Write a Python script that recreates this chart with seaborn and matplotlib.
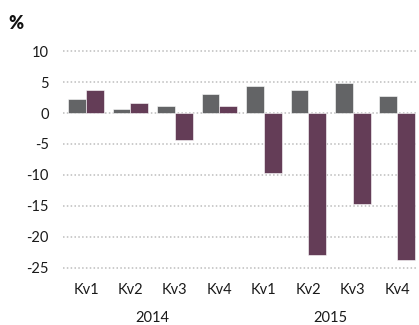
import matplotlib
matplotlib.use("Agg")
import matplotlib.pyplot as plt
import seaborn as sns
import pandas as pd

quarters = ["Kv1", "Kv2", "Kv3", "Kv4", "Kv1", "Kv2", "Kv3", "Kv4"]
years = ["2014"] * 4 + ["2015"] * 4
series_a = [2.2, 0.6, 1.1, 3.0, 4.3, 3.7, 4.9, 2.8]
series_b = [3.7, 1.6, -4.4, 1.1, -9.6, -22.9, -14.7, -23.8]
yticks = [10, 5, 0, -5, -10, -15, -20, -25]

periods = [f"{y} {q}" for y, q in zip(years, quarters)]
df = pd.DataFrame({
    "period": periods * 2,
    "serie": ["A"] * len(periods) + ["B"] * len(periods),
    "value": series_a + series_b,
})

sns.set_theme(style="white")
plt.rcParams["font.family"] = ["Lato", "DejaVu Sans"]

fig = plt.figure(figsize=(4.19, 3.25), dpi=100)
ax = fig.add_axes([0.150, 0.147, 0.848, 0.715])

sns.barplot(data=df, x="period", y="value", hue="serie", order=periods,
            palette={"A": "#636466", "B": "#6b3659"}, width=0.8,
            edgecolor="white", linewidth=0.4, legend=False, ax=ax, zorder=3)

ax.set_ylim(-26.5, 11)
ax.set_xlim(-0.52, 7.47)
ax.set_yticks(yticks)
ax.set_yticklabels([str(t) for t in yticks], fontsize=10.5, color="#1a1a1a")
ax.set_xticks(range(len(periods)))
ax.set_xticklabels(quarters, fontsize=10.5, color="#1a1a1a")
ax.tick_params(axis="y", length=0, pad=10)
ax.tick_params(axis="x", length=0, pad=4)
ax.set_xlabel("")
ax.set_ylabel("")
for s in ax.spines.values():
    s.set_visible(False)
ax.yaxis.grid(True, linestyle=(0, (1, 1.5)), color="#bdbdbd", linewidth=1.1, zorder=0)
ax.xaxis.grid(False)

# year labels under the quarter groups
for i, yr in enumerate(["2014", "2015"]):
    xc = 4 * i + 1.5
    xf = ax.transData.transform((xc, 0))[0] / fig.bbox.width
    fig.text(xf, 1 - 318 / 325, yr, ha="center", va="center", fontsize=10.5, color="#1a1a1a")

fig.text(15.5 / 419, 1 - 23.5 / 325, "%", ha="center", va="center",
         fontsize=13, fontweight="heavy", color="#111111")

fig.savefig("out.png", dpi=100)
